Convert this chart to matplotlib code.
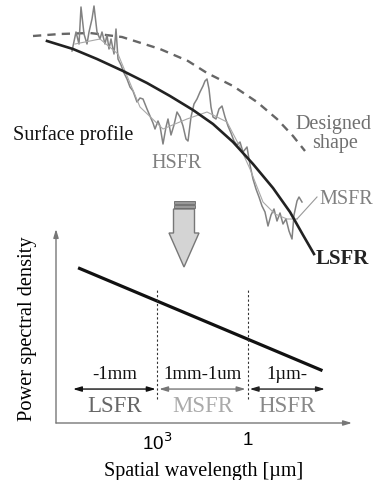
import numpy as np
import matplotlib.pyplot as plt
from matplotlib.patches import FancyArrow, Rectangle

# ---- upper sketch (image pixel coordinates) ----
design_x = [33, 60, 90, 122, 160, 188, 207, 233, 257, 277, 293, 305]
design_y = [37, 35, 34, 38, 50, 62, 74, 87, 103, 120, 137, 152]

lsfr_x = [47, 73, 97, 123, 147, 170, 193, 213, 233, 253, 273, 290, 303, 314]
lsfr_y = [42, 50, 60, 72, 84, 97, 111, 125, 143, 165, 189, 213, 236, 255]

msfr_x = [75, 100, 118, 125, 140, 163, 175, 187, 207, 227, 240, 250, 263, 275, 287, 297]
msfr_y = [45, 40, 55, 72, 108, 130, 125, 120, 113, 123, 148, 170, 203, 215, 220, 220]

profile = [(72, 52), (76, 33), (79, 45), (81, 8), (84, 35), (87, 45), (89, 33), (92, 20),
           (94, 7), (97, 33), (100, 40), (102, 33), (105, 45), (107, 36), (109, 50),
           (111, 40), (114, 55), (116, 30), (118, 60), (121, 66), (124, 74), (127, 80),
           (130, 88), (133, 92), (137, 103), (140, 99), (143, 100), (147, 110),
           (150, 117), (153, 124), (155, 130), (158, 122), (160, 127), (163, 145),
           (166, 128), (168, 120), (171, 136), (174, 126), (177, 113), (180, 118),
           (183, 127), (186, 140), (188, 142), (191, 118), (194, 105), (197, 100),
           (200, 93), (203, 87), (205, 82), (207, 80), (209, 90), (211, 108), (213, 118),
           (216, 120), (219, 110), (222, 107), (225, 118), (228, 127), (231, 134),
           (234, 142), (237, 146), (240, 143), (243, 153), (247, 148), (250, 166),
           (253, 180), (256, 190), (259, 198), (262, 207), (265, 213), (268, 227),
           (271, 216), (274, 210), (277, 222), (280, 214), (283, 225), (286, 220),
           (289, 232), (292, 240), (294, 216), (297, 202), (299, 198), (302, 203)]
profile_x = [p[0] for p in profile]
profile_y = [p[1] for p in profile]

# ---- PSD sketch ----
psd_wavelength = [4e5, 3.5e-3]    # um
psd_level = [0.80, 0.27]
boundaries = [1e3, 1.0]
band_ranges = [(5.9e5, 1.1e3), (8.5e2, 1.2), (0.88, 2.9e-3)]
band_ranges_text = ['-1mm', '1mm-1um', '1\u00b5m-']
band_names = ['LSFR', 'MSFR', 'HSFR']
band_colors = ['#666666', '#aaaaaa', '#888888']
arrow_colors = ['#111111', '#777777', '#222222']
tick_pos = [1e3, 1.0]
tick_labels = ['10$^3$', '1']

W, H = 380, 481
fig = plt.figure(figsize=(3.8, 4.81), dpi=100)
serif = 'Liberation Serif'

top = fig.add_axes([0, 0, 1, 1])
top.set_xlim(0, W)
top.set_ylim(H, 0)
top.axis('off')

top.plot(design_x, design_y, color='#666666', lw=1.7, ls=(0, (3.5, 2.6)))
top.plot(profile_x, profile_y, color='#828282', lw=1.1)
top.plot(msfr_x, msfr_y, color='#a8a8a8', lw=0.8)
top.plot([msfr_x[-1], 317], [msfr_y[-1], 198], color='#999999', lw=0.8)
top.plot(lsfr_x, lsfr_y, color='#222222', lw=1.9)

top.text(73, 135, 'Surface profile', family=serif, fontsize=14.5, color='#111111',
         ha='center', va='center')
top.text(177, 164, 'HSFR', family=serif, fontsize=14.5, color='#808080',
         ha='center', va='center')
top.text(333, 125, 'Designed', family=serif, fontsize=14.5, color='#707070',
         ha='center', va='center')
top.text(335, 144, 'shape', family=serif, fontsize=14.5, color='#707070',
         ha='center', va='center')
top.text(346, 200, 'MSFR', family=serif, fontsize=14.5, color='#808080',
         ha='center', va='center')
top.text(342, 259, 'LSFR', family=serif, fontsize=15, color='#222222',
         ha='center', va='center', fontweight='bold')

# big downward arrow
top.add_patch(FancyArrow(184, 210, 0, 58, width=21, head_width=30, head_length=34,
                         length_includes_head=True, facecolor='#d4d4d4',
                         edgecolor='#777777', lw=1.0))
for y0 in (201.5, 206):
    top.add_patch(Rectangle((173.5, y0), 21, 3, facecolor='#999999',
                            edgecolor='#666666', lw=0.6))

# ---- PSD axes ----
ax = fig.add_axes([56 / W, 1 - 424 / H, (352 - 56) / W, (424 - 230) / H])
ax.set_xscale('log')
ax.set_xlim(10 ** 6.33, 10 ** -3.43)
ax.set_ylim(0, 1)
for s in ax.spines.values():
    s.set_visible(False)
ax.patch.set_alpha(0)

ax.annotate('', xy=(0, 1.0), xytext=(0, 0), xycoords='axes fraction',
            arrowprops=dict(arrowstyle='-|>,head_length=0.5,head_width=0.15',
                            color='#777777', lw=1.0, shrinkA=0, shrinkB=0))
ax.annotate('', xy=(1.0, 0), xytext=(0, 0), xycoords='axes fraction',
            arrowprops=dict(arrowstyle='-|>,head_length=0.5,head_width=0.15',
                            color='#777777', lw=1.0, shrinkA=0, shrinkB=0))

ax.plot(psd_wavelength, psd_level, color='#111111', lw=2.3, solid_capstyle='butt')
for b in boundaries:
    ax.plot([b, b], [0.124, 0.69], color='#333333', lw=0.8, ls=(0, (2, 2)))

for (a, b), rng, name, c, ac in zip(band_ranges, band_ranges_text, band_names,
                                    band_colors, arrow_colors):
    ax.annotate('', xy=(b, 0.175), xytext=(a, 0.175),
                arrowprops=dict(arrowstyle='<|-|>,head_length=0.5,head_width=0.15',
                                color=ac, lw=1.0, shrinkA=0, shrinkB=0))
    mid = np.sqrt(a * b)
    ax.text(mid, 0.255, rng, family=serif, fontsize=13.5, color='#111111',
            ha='center', va='center')
    ax.text(mid, 0.088, name, family=serif, fontsize=16.5, color=c,
            ha='center', va='center')

ax.set_yticks([])
ax.set_xticks(tick_pos)
ax.set_xticklabels(tick_labels, family='Liberation Sans', fontsize=13.5)
ax.minorticks_off()
ax.tick_params(axis='x', length=0, pad=6)
ax.set_xlabel('Spatial wavelength [\u00b5m]', family=serif, fontsize=14.5, labelpad=6)
ax.set_ylabel('Power spectral density', family=serif, fontsize=14.7)
ax.yaxis.set_label_coords(-0.064, 0.49)

fig.savefig('out.png', dpi=100)
